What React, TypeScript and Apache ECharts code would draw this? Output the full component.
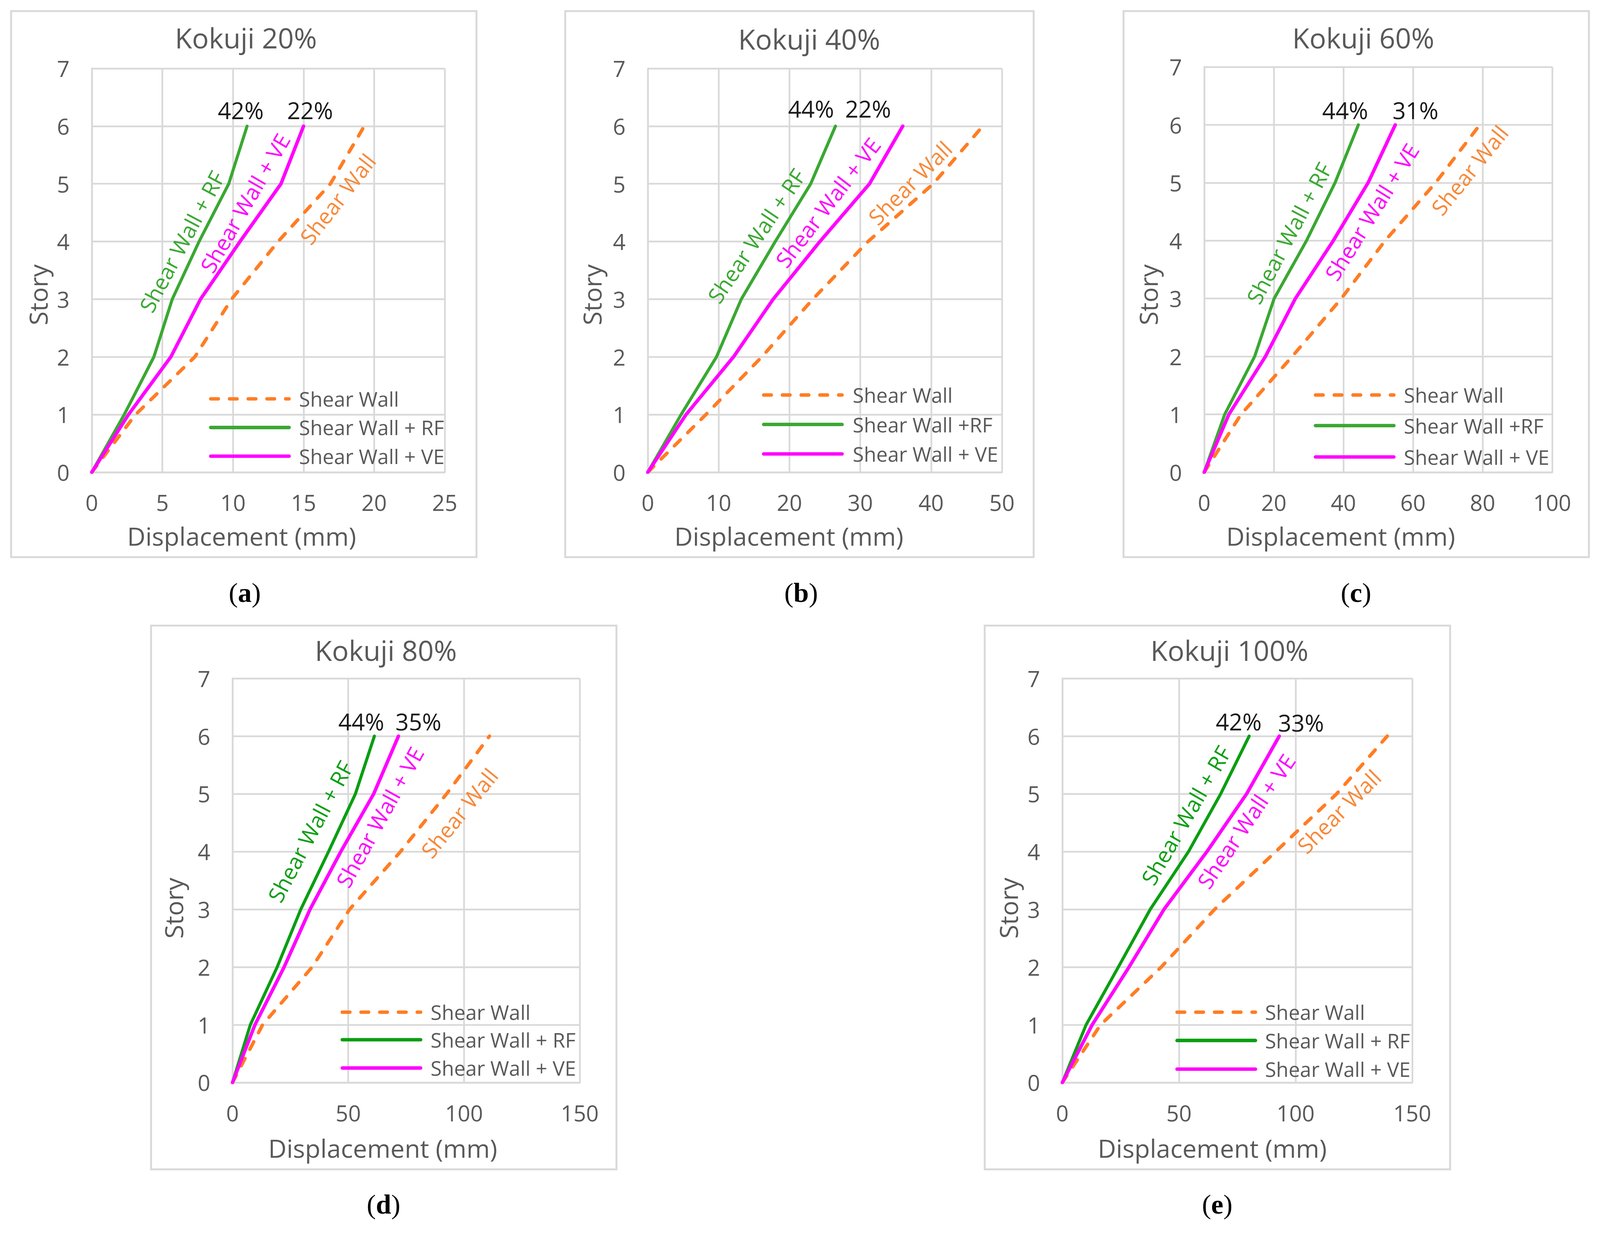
import React, { useEffect, useRef } from 'react';
import * as echarts from 'echarts';

const W = 4184;
const H = 3213;

// ---------- data ----------
const STORIES = [0, 1, 2, 3, 4, 5, 6];
const TITLES = ['Kokuji 20%', 'Kokuji 40%', 'Kokuji 60%', 'Kokuji 80%', 'Kokuji 100%'];
const TAGS = ['a', 'b', 'c', 'd', 'e'];
const X_MAX = [25, 50, 100, 150, 150];
const X_STEP = [5, 10, 20, 50, 50];

const swA = [0, 3.1, 7.3, 9.9, 13.2, 16.9, 19.3];
const rfA = [0, 2.3, 4.4, 5.7, 7.6, 9.7, 11.0];
const veA = [0, 2.6, 5.6, 7.7, 10.5, 13.4, 15.0];

const swB = [0, 8.2, 16.1, 23.3, 31.1, 40.3, 47.3];
const rfB = [0, 4.7, 9.7, 13.2, 18.0, 23.0, 26.5];
const veB = [0, 5.4, 12.1, 17.7, 24.3, 31.3, 36.0];

const swC = [0, 10.6, 25.3, 39.4, 52.0, 66.5, 79.2];
const rfC = [0, 5.9, 14.5, 20.1, 29.4, 37.6, 44.3];
const veC = [0, 7.1, 17.6, 26.2, 37.1, 47.1, 54.9];

const swD = [0, 13.0, 34.4, 50.6, 72.6, 92.5, 111.0];
const rfD = [0, 7.7, 19.3, 29.5, 41.5, 53.1, 61.3];
const veD = [0, 9.7, 22.3, 33.5, 46.8, 61.0, 71.7];

const swE = [0, 16.4, 42.4, 65.3, 91.5, 117.6, 139.3];
const rfE = [0, 10.2, 24.0, 37.7, 54.1, 67.9, 80.1];
const veE = [0, 12.8, 28.6, 43.6, 62.0, 79.0, 93.0];

const SW = [swA, swB, swC, swD, swE];
const RF = [rfA, rfB, rfC, rfD, rfE];
const VE = [veA, veB, veC, veD, veE];

const RF_PCT = ['42%', '44%', '44%', '44%', '42%'];
const VE_PCT = ['22%', '22%', '31%', '35%', '33%'];

const SERIES_NAMES = ['Shear Wall', 'Shear Wall + RF', 'Shear Wall + VE'];
const LEGEND_RF = ['Shear Wall + RF', 'Shear Wall +RF', 'Shear Wall +RF', 'Shear Wall + RF', 'Shear Wall + RF'];
const LEGEND_SW = 'Shear Wall';
const LEGEND_VE = 'Shear Wall + VE';

// ---------- layout / style ----------
const FONT = "'Open Sans', 'Noto Sans', sans-serif";
const GRAY = '#595959';
const GRID_GRAY = '#D9D9D9';
const ORANGE = '#FF7D24';
const ORANGE_TXT = '#F7893A';
const MAGENTA = '#FF00FF';
const GREENS = ['#3AA832', '#3AA832', '#3AA832', '#0A9E12', '#0A9E12'];

const GRIDS = [
  { left: 240, top: 179, width: 923, height: 1056 },
  { left: 1694, top: 179, width: 926, height: 1056 },
  { left: 3149, top: 175, width: 910, height: 1060 },
  { left: 608, top: 1774, width: 908, height: 1057 },
  { left: 2778, top: 1774, width: 915, height: 1057 },
];
const FRAMES = [
  { x: 29, y: 29, width: 1217, height: 1428 },
  { x: 1478, y: 29, width: 1225, height: 1428 },
  { x: 2938, y: 29, width: 1217, height: 1428 },
  { x: 395, y: 1636, width: 1217, height: 1422 },
  { x: 2575, y: 1636, width: 1217, height: 1422 },
];
const TITLE_POS = [[643, 99], [2116, 102], [3565, 99], [1009, 1700], [3215, 1700]];
const XNAME_POS = [[632, 1401], [2063, 1401], [3506, 1401], [1001, 3002], [3170, 3002]];
const YNAME_POS = [[99, 771], [1548, 771], [3002, 771], [454, 2375], [2636, 2375]];
const TAG_POS = [[640, 1550], [2095, 1550], [3546, 1550], [1003, 3149], [3183, 3149]];
const LEGEND_POS = [
  { lx: 547, tx: 782, rows: [1043, 1118, 1193] },
  { lx: 1993, tx: 2230, rows: [1033, 1110, 1187] },
  { lx: 3436, tx: 3671, rows: [1033, 1113, 1195] },
  { lx: 891, tx: 1126, rows: [2647, 2719, 2793] },
  { lx: 3074, tx: 3308, rows: [2647, 2721, 2796] },
];
// annotation anchors in data coordinates: [x, story, angle]
const LINE_LABELS = [
  { rf: [6.36, 4.0, 62], ve: [10.84, 4.67, 60], sw: [17.4, 4.74, 52], prf: [10.55, 6.28], pve: [15.46, 6.28] },
  { rf: [15.3, 4.1, 56], ve: [25.4, 4.68, 52.5], sw: [37.0, 5.02, 45], prf: [23.05, 6.31], pve: [31.1, 6.31] },
  { rf: [24.3, 4.13, 62], ve: [48.1, 4.5, 58], sw: [76.2, 5.22, 51], prf: [40.5, 6.26], pve: [60.7, 6.26] },
  { rf: [33.5, 4.35, 62], ve: [63.5, 4.6, 61], sw: [97.9, 4.67, 51], prf: [55.6, 6.26], pve: [80.3, 6.26] },
  { rf: [52.9, 4.63, 60], ve: [78.7, 4.53, 56], sw: [118.5, 4.7, 45], prf: [75.6, 6.26], pve: [102.3, 6.24] },
];

function buildOption() {
  const grid = GRIDS.map((g) => ({ ...g, containLabel: false }));
  const xAxis = GRIDS.map((_, p) => ({
    gridIndex: p,
    type: 'value',
    min: 0,
    max: X_MAX[p],
    interval: X_STEP[p],
    axisLine: { show: true, lineStyle: { color: GRID_GRAY, width: 4.5 } },
    axisTick: { show: false },
    axisLabel: { color: GRAY, fontSize: 58, fontFamily: FONT, margin: 50 },
    splitLine: { show: true, lineStyle: { color: GRID_GRAY, width: 4.5 } },
  }));
  const yAxis = GRIDS.map((_, p) => ({
    gridIndex: p,
    type: 'value',
    min: 0,
    max: 7,
    interval: 1,
    axisLine: { show: true, lineStyle: { color: GRID_GRAY, width: 4.5 } },
    axisTick: { show: false },
    axisLabel: { color: GRAY, fontSize: 58, fontFamily: FONT, margin: 58 },
    splitLine: { show: true, lineStyle: { color: GRID_GRAY, width: 4.5 } },
  }));
  const series: any[] = [];
  GRIDS.forEach((_, p) => {
    const sets = [SW[p], RF[p], VE[p]];
    const colors = [ORANGE, GREENS[p], MAGENTA];
    sets.forEach((vals, k) => {
      series.push({
        type: 'line',
        name: SERIES_NAMES[k],
        xAxisIndex: p,
        yAxisIndex: p,
        data: STORIES.map((s, i) => [vals[i], s]),
        symbol: 'none',
        showSymbol: false,
        lineStyle: {
          color: colors[k],
          width: k === 1 ? 8 : 9,
          type: k === 0 ? [22, 27] : 'solid',
          cap: 'round',
          join: 'round',
        },
        z: 3 + k,
      });
    });
  });
  return { animation: false, backgroundColor: '#ffffff', grid, xAxis, yAxis, series };
}

function txt(x: number, y: number, text: string, size: number, fill: string, extra: any = {}) {
  return {
    type: 'text',
    x,
    y,
    z: 50,
    silent: true,
    ...extra,
    style: {
      text,
      fill,
      fontSize: size,
      fontFamily: FONT,
      textAlign: 'center',
      textVerticalAlign: 'middle',
      align: 'center',
      verticalAlign: 'middle',
      ...(extra.style || {}),
    },
  };
}

function viewScale() {
  if (typeof window === 'undefined') return 1;
  const s = Math.min(window.innerWidth / W, window.innerHeight / H);
  return s > 0 ? s : 1;
}

export default function App() {
  const ref = useRef<HTMLDivElement>(null);
  const scale = viewScale();
  useEffect(() => {
    document.body.style.margin = '0';
    document.body.style.overflow = 'hidden';
    const chart = echarts.init(ref.current!, null, { renderer: 'svg', width: W, height: H });
    chart.setOption(buildOption());

    const g: any[] = [];
    GRIDS.forEach((_, p) => {
      const f = FRAMES[p];
      g.push({
        type: 'rect',
        z: 0,
        silent: true,
        shape: { x: f.x, y: f.y, width: f.width, height: f.height },
        style: { fill: 'rgba(0,0,0,0)', stroke: GRID_GRAY, lineWidth: 5 },
      });
      g.push(txt(TITLE_POS[p][0], TITLE_POS[p][1], TITLES[p], 73, GRAY));
      g.push(txt(XNAME_POS[p][0], XNAME_POS[p][1], 'Displacement (mm)', 66, GRAY));
      g.push(txt(YNAME_POS[p][0], YNAME_POS[p][1], 'Story', 66, GRAY, { rotation: Math.PI / 2 }));
      g.push({
        type: 'text',
        x: TAG_POS[p][0],
        y: TAG_POS[p][1],
        z: 50,
        style: {
          text: '{n|(}{b|' + TAGS[p] + '}{n|)}',
          textAlign: 'center',
          textVerticalAlign: 'middle',
          align: 'center',
          verticalAlign: 'middle',
          fill: '#000',
          rich: {
            n: { fontFamily: "'Liberation Serif', serif", fontSize: 72, fill: '#000', color: '#000' },
            b: { fontFamily: "'Liberation Serif', serif", fontSize: 72, fontWeight: 'bold', fill: '#000', color: '#000' },
          },
        },
      });
      // legend
      const L = LEGEND_POS[p];
      const items = [
        { name: LEGEND_SW, color: ORANGE, dash: [20, 29] },
        { name: LEGEND_RF[p], color: GREENS[p], dash: null },
        { name: LEGEND_VE, color: MAGENTA, dash: null },
      ];
      items.forEach((it, r) => {
        const y = L.rows[r];
        g.push({
          type: 'line',
          z: 40,
          silent: true,
          shape: { x1: L.lx + 4, y1: y, x2: L.lx + 209, y2: y },
          style: { stroke: it.color, lineWidth: 9, lineDash: it.dash || undefined, lineCap: 'round' },
        });
        g.push(txt(L.tx, y, it.name, 53, GRAY, { style: { textAlign: 'left', align: 'left' } }));
      });
      // line labels
      const A = LINE_LABELS[p];
      const lbl = [
        { pos: A.rf, text: SERIES_NAMES[1], color: GREENS[p] },
        { pos: A.ve, text: SERIES_NAMES[2], color: MAGENTA },
        { pos: A.sw, text: SERIES_NAMES[0], color: ORANGE_TXT },
      ];
      lbl.forEach((l) => {
        const px = chart.convertToPixel({ gridIndex: p } as any, [l.pos[0], l.pos[1]]) as number[];
        g.push(txt(px[0], px[1], l.text, 57, l.color, { rotation: (l.pos[2] * Math.PI) / 180 }));
      });
      const p1 = chart.convertToPixel({ gridIndex: p } as any, [A.prf[0], A.prf[1]]) as number[];
      const p2 = chart.convertToPixel({ gridIndex: p } as any, [A.pve[0], A.pve[1]]) as number[];
      g.push(txt(p1[0], p1[1], RF_PCT[p], 61, '#1A1A1A'));
      g.push(txt(p2[0], p2[1], VE_PCT[p], 61, '#1A1A1A'));
    });
    chart.setOption({ graphic: g });
    return () => chart.dispose();
  }, []);
  return (
    <div style={{ width: W * scale, height: H * scale, overflow: 'hidden' }}>
      <div
        ref={ref}
        style={{ width: W, height: H, transform: `scale(${scale})`, transformOrigin: '0 0' }}
      />
    </div>
  );
}
